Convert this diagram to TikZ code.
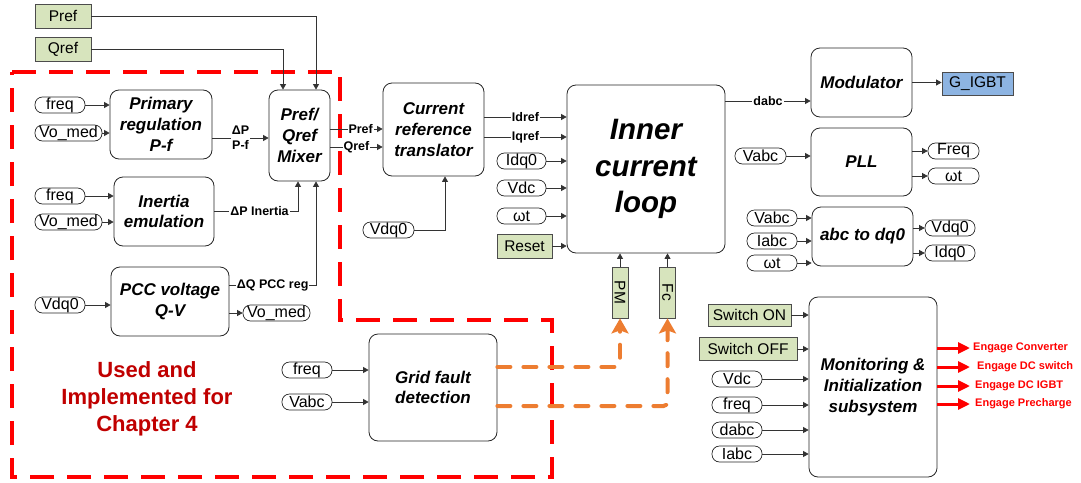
\documentclass[tikz,border=0pt]{standalone}
\usepackage{fontspec}
\setmainfont{Liberation Sans}
\usepackage{graphicx}
\usetikzlibrary{arrows.meta}
\definecolor{verde}{RGB}{215,228,189}
\definecolor{azul}{RGB}{141,180,226}
\definecolor{laranja}{RGB}{237,125,49}
\definecolor{vermelhoesc}{RGB}{192,0,0}

\begin{document}
\begin{tikzpicture}[
    x=1pt, y=-1pt,
    % Blocos principais
    bloco/.style={
        draw=black!85, rounded corners=9pt, fill=white, line width=0.8pt,
        font=\fontsize{17}{20.7}\selectfont\bfseries\itshape,
        align=center, inner sep=0pt
    },
    % Sinais de entrada/saída
    sinal/.style={
        draw=black!85, rounded corners=7.5pt, fill=white, line width=0.7pt,
        font=\fontsize{16}{17}\selectfont, minimum height=16,
        inner sep=0pt
    },
    % Constantes e comandos
    cte/.style={
        draw=black!70, fill=verde, line width=0.8pt,
        font=\fontsize{15.5}{17}\selectfont, inner sep=0pt
    },
    rot/.style={
        fill=white, inner sep=1pt, align=center,
        font=\fontsize{12.5}{15}\selectfont\bfseries
    },
    saida/.style={
        text=red, anchor=west, inner sep=0pt, inner xsep=3pt,
        font=\fontsize{11}{13}\selectfont\bfseries
    },
    linha/.style={draw=black!80, line width=0.7pt, -{Triangle[length=5.5pt,width=6pt]}},
    lfalta/.style={draw=laranja, line width=4pt, line cap=round, rounded corners=4pt,
        dash pattern=on 13pt off 13pt, -{Stealth[length=15pt,width=17pt,inset=3pt]}},
    lsaida/.style={draw=red, line width=3pt, -{Triangle[length=12pt,width=11pt]}}
]
\useasboundingbox (0,0) rectangle (1081,482);

% ---- REGIAO DO CAPITULO 4 ----
\draw[red, line width=3.3pt, dash pattern=on 24pt off 13pt]
    (12,72) -- (340,72) -- (340,320) -- (552,320) -- (552,477) -- (12,477) -- cycle;
\node[text=vermelhoesc, align=center, font=\fontsize{22}{27}\selectfont\bfseries] (cap4)
    at (147,399) {Used and\\Implemented for\\Chapter 4};

% ---- REFERENCIAS ----
\node[cte, minimum width=56, minimum height=24] (pref) at (63,16) {Pref};
\node[cte, minimum width=56, minimum height=24] (qref) at (63,49) {Qref};

% ---- REGULACAO PRIMARIA ----
\node[bloco, minimum width=102, minimum height=69] (primary) at (161,124.5) {Primary\\regulation\\P-f};
\node[sinal, minimum width=50] (freq_a)  at (60,105)   {freq};
\node[sinal, minimum width=67] (vomed_a) at (68.5,133) {Vo\_med};
\draw[linha] (freq_a.east)  -- (freq_a.east -| primary.west);
\draw[linha] (vomed_a.east) -- (vomed_a.east -| primary.west);

% ---- INERCIA ----
\node[bloco, minimum width=100, minimum height=69] (inertia) at (164,211.5) {Inertia\\emulation};
\node[sinal, minimum width=50] (freq_b)  at (60,196)   {freq};
\node[sinal, minimum width=67] (vomed_b) at (68.5,222) {Vo\_med};
\draw[linha] (freq_b.east)  -- (freq_b.east -| inertia.west);
\draw[linha] (vomed_b.east) -- (vomed_b.east -| inertia.west);

% ---- TENSAO NO PCC ----
\node[bloco, minimum width=118, minimum height=69] (pcc) at (170,301.5) {PCC voltage\\Q-V};
\node[sinal, minimum width=50] (vdq0_a)  at (60,305)    {Vdq0};
\node[sinal, minimum width=67] (vomed_c) at (276.5,313) {Vo\_med};
\draw[linha] (vdq0_a.east) -- (vdq0_a.east -| pcc.west);
\draw[linha] (pcc.east |- vomed_c.west) -- (vomed_c.west);

% ---- MISTURADOR ----
\node[bloco, minimum width=61, minimum height=91] (mixer) at (299.5,135.5) {Pref/\\Qref\\Mixer};

\draw[linha] (pref.east) -| ([xshift=16.5pt]mixer.north);
\draw[linha] (qref.east) -| ([xshift=-16.5pt]mixer.north);

\coordinate (dp_pf) at ([yshift=-13.5pt]primary.east);
\draw[linha] (dp_pf) -- node[rot]{ΔP\\P-f} (dp_pf -| mixer.west);
\draw[linha] (inertia.east) -| node[rot, pos=0.27]{ΔP Inertia} ([xshift=-1.5pt]mixer.south);
\coordinate (dq_pcc) at ([yshift=16.5pt]pcc.east);
\draw[linha] (dq_pcc) -| node[rot, pos=0.25]{ΔQ PCC reg} ([xshift=16.5pt]mixer.south);

% ---- TRADUTOR DE REFERENCIA ----
\node[bloco, minimum width=101, minimum height=93] (transl) at (433.5,129.5) {Current\\reference\\translator};
\node[sinal, minimum width=51] (vdq0_b) at (388.5,230) {Vdq0};

\coordinate (mx_p) at ([yshift=6.5pt]mixer.east);
\coordinate (mx_q) at ([yshift=-11.5pt]mixer.east);
\draw[linha] (mx_p) -- node[rot, pos=0.58]{Pref} (mx_p -| transl.west);
\draw[linha] (mx_q) -- node[rot, pos=0.5]{Qref} (mx_q -| transl.west);
\draw[linha] (vdq0_b.east) -| ([xshift=11.5pt]transl.south);

% ---- MALHA INTERNA DE CORRENTE ----
\node[bloco, minimum width=158, minimum height=168,
      font=\fontsize{29.5}{36.7}\selectfont\bfseries\itshape] (inner) at (646,169) {Inner\\current\\loop};
\node[sinal, minimum width=49] (idq0_a) at (521.5,161) {Idq0};
\node[sinal, minimum width=49] (vdc_a)  at (521.5,188) {Vdc};
\node[sinal, minimum width=49] (wt_a)   at (521.5,216) {ωt};
\node[cte, minimum width=55, minimum height=24] (reset) at (524.5,246) {Reset};

\coordinate (tr_d) at ([yshift=12.5pt]transl.east);
\coordinate (tr_q) at ([yshift=-7.5pt]transl.east);
\draw[linha] (tr_d) -- node[rot]{Idref} (tr_d -| inner.west);
\draw[linha] (tr_q) -- node[rot]{Iqref} (tr_q -| inner.west);
\draw[linha] (idq0_a.east) -- (idq0_a.east -| inner.west);
\draw[linha] (vdc_a.east)  -- (vdc_a.east -| inner.west);
\draw[linha] (wt_a.east)   -- (wt_a.east -| inner.west);
\draw[linha] (reset.east)  -- (reset.east -| inner.west);

\node[cte, minimum width=16, minimum height=51] (pm) at (620,292.5)   {\rotatebox{-90}{PM}};
\node[cte, minimum width=16, minimum height=51] (fc) at (667.5,292.5) {\rotatebox{-90}{Fc}};
\draw[linha] (pm.north) -- (pm.north |- inner.south);
\draw[linha] (fc.north) -- (fc.north |- inner.south);

% ---- DETECCAO DE FALTA ----
\node[bloco, minimum width=128, minimum height=107] (gfd) at (433,387.5) {Grid fault\\detection};
\node[sinal, minimum width=50] (freq_c) at (307,370) {freq};
\node[sinal, minimum width=50] (vabc_a) at (307,402) {Vabc};
\draw[linha] (freq_c.east) -- (freq_c.east -| gfd.west);
\draw[linha] (vabc_a.east) -- (vabc_a.east -| gfd.west);

\coordinate (gf_pm) at ([yshift=20.5pt]gfd.east);
\coordinate (gf_fc) at ([yshift=-18.5pt]gfd.east);
\draw[lfalta] (gf_pm) -| (pm.south);
\draw[lfalta] (gf_fc) -| (fc.south);

% ---- MODULADOR ----
\node[bloco, minimum width=101, minimum height=69] (modul) at (861.5,82.5) {Modulator};
\node[draw=black!70, fill=azul, line width=0.8pt, inner sep=0pt,
      minimum width=71, minimum height=23, font=\fontsize{15.5}{17}\selectfont] (gigbt) at (977.5,83.5) {G\_IGBT};
\coordinate (ic_d) at ([yshift=68pt]inner.east);
\draw[linha] (ic_d) -- node[rot]{dabc} (ic_d -| modul.west);
\draw[linha] (modul.east) -- (modul.east -| gigbt.west);

% ---- PLL ----
\node[bloco, minimum width=101, minimum height=68] (pll) at (861.5,162) {PLL};
\node[sinal, minimum width=51] (vabc_b) at (760.5,156) {Vabc};
\node[sinal, minimum width=51] (freq_o) at (953.5,151) {Freq};
\node[sinal, minimum width=51] (wt_o)   at (953.5,176) {ωt};
\draw[linha] (vabc_b.east) -- (vabc_b.east -| pll.west);
\draw[linha] (pll.east |- freq_o.west) -- (freq_o.west);
\draw[linha] (pll.east |- wt_o.west)   -- (wt_o.west);

% ---- ABC PARA DQ0 ----
\node[bloco, minimum width=101, minimum height=59] (abcdq) at (862.5,236.5) {abc to dq0};
\node[sinal, minimum width=50] (vabc_c) at (772,218) {Vabc};
\node[sinal, minimum width=50] (iabc_a) at (772,241) {Iabc};
\node[sinal, minimum width=50] (wt_b)   at (772,263) {ωt};
\node[sinal, minimum width=50] (vdq0_o) at (950,228) {Vdq0};
\node[sinal, minimum width=50] (idq0_o) at (950,253) {Idq0};
\draw[linha] (vabc_c.east) -- (vabc_c.east -| abcdq.west);
\draw[linha] (iabc_a.east) -- (iabc_a.east -| abcdq.west);
\draw[linha] (wt_b.east)   -- (wt_b.east -| abcdq.west);
\draw[linha] (abcdq.east |- vdq0_o.west) -- (vdq0_o.west);
\draw[linha] (abcdq.east |- idq0_o.west) -- (idq0_o.west);

% ---- MONITORAMENTO E INICIALIZACAO ----
\node[bloco, minimum width=128, minimum height=180] (monit) at (873,387) {Monitoring \&\\Initialization\\subsystem};
\node[cte, minimum width=83, minimum height=22] (sw_on)  at (749.5,315) {Switch ON};
\node[cte, minimum width=98, minimum height=23] (sw_off) at (748,349)   {Switch OFF};
\node[sinal, minimum width=50] (vdc_b)  at (737,379) {Vdc};
\node[sinal, minimum width=50] (freq_d) at (737,405) {freq};
\node[sinal, minimum width=50] (dabc_a) at (737,430) {dabc};
\node[sinal, minimum width=50] (iabc_b) at (737,454) {Iabc};
\draw[linha] (sw_on.east)  -- (sw_on.east -| monit.west);
\draw[linha] (sw_off.east) -- (sw_off.east -| monit.west);
\draw[linha] (vdc_b.east)  -- (vdc_b.east -| monit.west);
\draw[linha] (freq_d.east) -- (freq_d.east -| monit.west);
\draw[linha] (dabc_a.east) -- (dabc_a.east -| monit.west);
\draw[linha] (iabc_b.east) -- (iabc_b.east -| monit.west);

\node[saida] (eng_conv) at (970,348) {Engage Converter};
\node[saida] (eng_dcsw) at (974,367) {Engage DC switch};
\node[saida] (eng_igbt) at (972,386) {Engage DC IGBT};
\node[saida] (eng_prec) at (972,404) {Engage Precharge};
\draw[lsaida] (monit.east |- eng_conv.west) -- (eng_conv.west);
\draw[lsaida] (monit.east |- eng_dcsw.west) -- ([xshift=-4pt]eng_dcsw.west);
\draw[lsaida] (monit.east |- eng_igbt.west) -- ([xshift=-2pt]eng_igbt.west);
\draw[lsaida] (monit.east |- eng_prec.west) -- ([xshift=-2pt]eng_prec.west);

\end{tikzpicture}
\end{document}
